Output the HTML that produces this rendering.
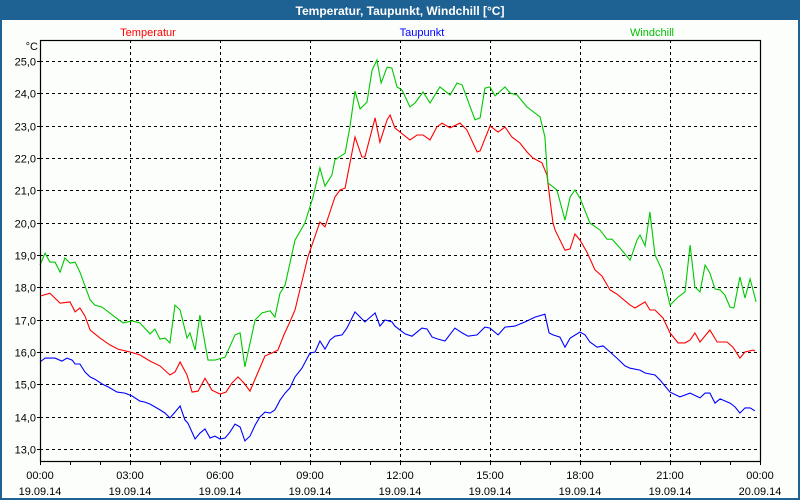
<!DOCTYPE html>
<html><head><meta charset="utf-8"><style>
html,body{margin:0;padding:0;background:#fff}
svg{display:block;font-family:"Liberation Sans","DejaVu Sans",sans-serif}
</style></head><body>
<svg id="chart" width="800" height="500" viewBox="0 0 800 500" xmlns="http://www.w3.org/2000/svg">
<rect x="0" y="0" width="800" height="500" fill="#1e6294"/>
<rect x="2" y="20" width="796" height="478" fill="#fcfefc"/>
<text x="400" y="15" fill="#fff" font-size="12" font-weight="bold" text-anchor="middle">Temperatur, Taupunkt, Windchill [°C]</text>
<text x="148" y="36" fill="#ff0000" font-size="11" text-anchor="middle">Temperatur</text>
<text x="422" y="36" fill="#0000ff" font-size="11" text-anchor="middle">Taupunkt</text>
<text x="652" y="36" fill="#00c000" font-size="11" text-anchor="middle">Windchill</text>
<text x="38" y="50" fill="#000" font-size="11" text-anchor="end">°C</text>
<g id="grid"></g>
<g id="series"></g>
<g id="axes"></g>
</svg>
<script>
const yTicks = [13,14,15,16,17,18,19,20,21,22,23,24,25];
const yTickLabels = ["13,0","14,0","15,0","16,0","17,0","18,0","19,0","20,0","21,0","22,0","23,0","24,0","25,0"];
const xTickHours = [0,3,6,9,12,15,18,21,24];
const xTickTimes = ["00:00","03:00","06:00","09:00","12:00","15:00","18:00","21:00","00:00"];
const xTickDates = ["19.09.14","19.09.14","19.09.14","19.09.14","19.09.14","19.09.14","19.09.14","19.09.14","20.09.14"];

const tempTimes = [0,.33,.67,1,1.17,1.33,1.5,1.67,2,2.33,2.6,3,3.33,3.67,4,4.33,4.5,4.67,4.9,5.07,5.27,5.5,5.73,6,6.2,6.4,6.6,6.8,7,7.27,7.5,7.73,7.93,8.13,8.33,8.5,8.93,9.33,9.5,9.83,10,10.17,10.5,10.73,10.83,11.17,11.33,11.57,11.67,11.83,12.33,12.57,12.77,13,13.23,13.4,13.67,14,14.23,14.57,14.67,15,15.27,15.5,15.73,16,16.23,16.43,16.73,16.9,17,17.1,17.17,17.5,17.67,17.83,18,18.23,18.5,18.73,19,19.23,19.67,19.83,20.17,20.33,20.5,20.77,21,21.27,21.5,21.67,21.83,22,22.33,22.57,22.9,23.1,23.33,23.5,23.77,23.83];
const tempValues = [17.73,17.82,17.51,17.55,17.24,17.36,17.11,16.68,16.43,16.22,16.09,16.0,15.91,15.72,15.57,15.29,15.38,15.69,15.29,14.76,14.79,15.19,14.82,14.70,14.76,15.04,15.23,15.04,14.79,15.38,15.88,15.97,16.06,16.53,16.93,17.30,18.94,20.02,19.87,20.79,21.01,21.07,22.65,22.03,22.03,23.24,22.49,23.18,23.33,22.93,22.56,22.71,22.71,22.56,22.96,23.08,22.93,23.08,22.87,22.19,22.22,22.99,22.80,22.96,22.65,22.46,22.19,22.0,21.85,21.47,20.70,19.99,19.77,19.15,19.19,19.65,19.46,19.09,18.54,18.35,17.92,17.79,17.45,17.36,17.55,17.30,17.30,17.05,16.59,16.28,16.28,16.37,16.59,16.31,16.68,16.31,16.31,16.15,15.81,16.0,16.06,16.03];

const chillTimes = [0,.17,.33,.5,.67,.83,1,1.17,1.33,1.67,1.83,2.07,2.5,2.77,3.07,3.33,3.67,3.83,4,4.17,4.33,4.5,4.67,4.9,5,5.17,5.33,5.6,5.83,6.17,6.5,6.67,6.83,7.17,7.4,7.67,7.83,8,8.17,8.5,8.83,9.1,9.33,9.5,9.73,9.83,10.17,10.33,10.5,10.67,10.9,11.07,11.23,11.37,11.57,11.73,11.9,12.07,12.33,12.5,12.77,13,13.33,13.67,13.9,14.07,14.5,14.67,14.83,15,15.17,15.5,15.67,15.9,16.23,16.67,16.83,16.93,17.23,17.5,17.67,17.83,18,18.33,18.67,18.9,19.07,19.33,19.67,19.9,20,20.17,20.33,20.5,20.73,21,21.27,21.5,21.67,21.83,22,22.17,22.33,22.5,22.67,22.83,23,23.13,23.33,23.5,23.67,23.87];
const chillValues = [18.69,19.06,18.78,18.78,18.47,18.91,18.75,18.78,18.47,17.61,17.45,17.39,17.08,16.90,16.96,16.90,16.56,16.71,16.40,16.43,16.28,17.45,17.30,16.43,16.59,16.06,17.14,15.75,15.75,15.84,16.53,16.59,15.54,16.99,17.21,17.27,17.08,17.82,18.07,19.46,19.99,20.79,21.69,21.13,21.47,21.94,22.15,22.96,24.07,23.52,23.73,24.72,25.03,24.32,24.81,24.78,24.20,24.10,23.58,23.70,24.04,23.70,24.20,23.95,24.32,24.26,23.18,23.24,24.16,24.20,23.92,24.20,24.01,23.95,23.58,23.27,22.65,21.23,21.01,20.08,20.79,21.01,20.76,19.99,19.77,19.49,19.49,19.22,18.84,19.46,19.62,19.28,20.33,19.0,18.54,17.45,17.70,17.86,19.31,18.01,17.86,18.69,18.44,17.95,17.92,17.76,17.39,17.36,18.32,17.67,18.26,17.55];

const dewTimes = [0,.17,.5,.73,.9,1.07,1.17,1.33,1.5,1.67,1.83,2.07,2.27,2.57,2.83,3.07,3.33,3.5,3.67,4,4.17,4.33,4.5,4.67,4.83,4.93,5.17,5.33,5.5,5.67,5.83,6,6.17,6.33,6.5,6.67,6.83,7,7.17,7.33,7.5,7.67,7.83,8,8.17,8.33,8.5,8.73,9,9.17,9.33,9.5,9.67,9.83,10.07,10.23,10.5,10.83,11.17,11.33,11.5,11.73,11.83,12.17,12.4,12.73,12.9,13.07,13.27,13.5,13.83,14.07,14.27,14.57,14.83,15,15.27,15.5,15.83,16.17,16.5,16.83,16.97,17.1,17.33,17.5,17.67,18,18.17,18.33,18.57,18.77,19,19.23,19.5,19.67,20,20.17,20.5,20.67,21,21.33,21.67,22,22.17,22.33,22.5,22.67,23,23.17,23.33,23.5,23.67,23.83];
const dewValues = [15.69,15.81,15.81,15.72,15.81,15.75,15.63,15.63,15.38,15.23,15.16,15.01,14.92,14.76,14.73,14.64,14.48,14.45,14.39,14.21,14.11,13.96,14.14,14.33,13.90,13.80,13.31,13.49,13.62,13.34,13.40,13.31,13.34,13.52,13.77,13.68,13.25,13.40,13.74,13.99,14.14,14.11,14.21,14.51,14.73,14.89,15.23,15.50,15.97,16.0,16.34,16.09,16.37,16.49,16.53,16.74,17.24,16.93,17.21,16.80,16.99,16.93,16.80,16.56,16.49,16.74,16.71,16.46,16.40,16.34,16.74,16.59,16.49,16.53,16.77,16.74,16.53,16.77,16.80,16.93,17.08,17.17,16.59,16.53,16.46,16.15,16.43,16.62,16.53,16.31,16.15,16.19,16.0,15.81,15.57,15.50,15.44,15.35,15.29,15.13,14.76,14.61,14.73,14.58,14.73,14.73,14.42,14.55,14.42,14.30,14.11,14.27,14.27,14.18];

const NS = "http://www.w3.org/2000/svg";
const L = 40, R = 760, T = 40, B = 461;
function xScale(h){ return L + h * (R - L) / 24; }
function yScale(v){ return 61 + (25 - v) * (449 - 61) / 12; }
function mk(tag, parent){ const e = document.createElementNS(NS, tag); parent.appendChild(e); return e; }

const grid = document.getElementById('grid');
yTicks.forEach(function(v){
  const ln = mk('line', grid);
  
  
  ln.setAttribute('x1', L); ln.setAttribute('x2', R);
  ln.setAttribute('y1', Math.round(yScale(v)) + 0.5); ln.setAttribute('y2', Math.round(yScale(v)) + 0.5);
  ln.setAttribute('stroke', '#000'); ln.setAttribute('stroke-dasharray', '3,3');
});
xTickHours.forEach(function(h){
  if (h === 0 || h === 24) return;
  const ln = mk('line', grid);
  
  
  ln.setAttribute('x1', Math.round(xScale(h)) + 0.5); ln.setAttribute('x2', Math.round(xScale(h)) + 0.5);
  ln.setAttribute('y1', T); ln.setAttribute('y2', B);
  ln.setAttribute('stroke', '#000'); ln.setAttribute('stroke-dasharray', '3,3');
});

const series = document.getElementById('series');
function drawLine(times, values, color, name){
  const p = mk('polyline', series);
  
  
  p.setAttribute('points', times.map(function(t, i){ return xScale(t).toFixed(1) + ',' + yScale(values[i]).toFixed(1); }).join(' '));
  p.setAttribute('fill', 'none'); p.setAttribute('stroke', color); p.setAttribute('stroke-width', '1.1');
}
drawLine(dewTimes, dewValues, '#0000ff', 'taupunkt-line');
drawLine(tempTimes, tempValues, '#ff0000', 'temperatur-line');
drawLine(chillTimes, chillValues, '#00c800', 'windchill-line');

const axes = document.getElementById('axes');
const box = mk('rect', axes);


box.setAttribute('x', L + 0.5); box.setAttribute('y', T + 0.5);
box.setAttribute('width', R - L); box.setAttribute('height', B - T);
box.setAttribute('fill', 'none'); box.setAttribute('stroke', '#000'); box.setAttribute('stroke-width', '1.2');

yTicks.forEach(function(v, i){
  const y = Math.round(yScale(v)) + 0.5;
  const tk = mk('line', axes);
  
  
  tk.setAttribute('x1', L - 3); tk.setAttribute('x2', L); tk.setAttribute('y1', y); tk.setAttribute('y2', y);
  tk.setAttribute('stroke', '#000');
  const tx = mk('text', axes);
  
  
  tx.setAttribute('x', 36); tx.setAttribute('y', y + 4);
  tx.setAttribute('font-size', '11'); tx.setAttribute('text-anchor', 'end');
  tx.textContent = yTickLabels[i];
});
for (let h = 0; h <= 24; h++) {
  const x = Math.round(xScale(h)) + 0.5;
  const tk = mk('line', axes);
  
  
  tk.setAttribute('x1', x); tk.setAttribute('x2', x); tk.setAttribute('y1', B); tk.setAttribute('y2', B + 4);
  tk.setAttribute('stroke', '#000');
}
xTickHours.forEach(function(h, i){
  const x = xScale(h);
  const t1 = mk('text', axes);
  
  
  t1.setAttribute('x', x); t1.setAttribute('y', 479);
  t1.setAttribute('font-size', '11'); t1.setAttribute('text-anchor', 'middle');
  t1.textContent = xTickTimes[i];
  const t2 = mk('text', axes);
  
  
  t2.setAttribute('x', x); t2.setAttribute('y', 495);
  t2.setAttribute('font-size', '11'); t2.setAttribute('text-anchor', 'middle');
  t2.textContent = xTickDates[i];
});
</script>
</body></html>
